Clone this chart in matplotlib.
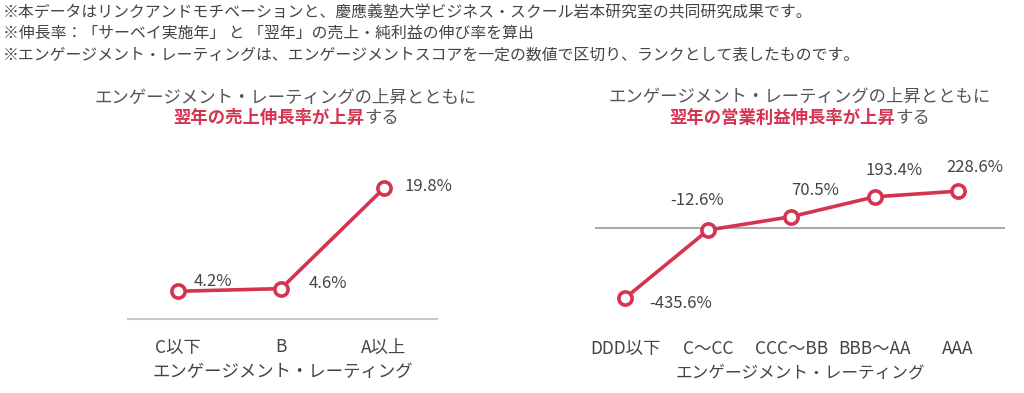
import matplotlib
matplotlib.use("Agg")
import matplotlib.pyplot as plt
from matplotlib.offsetbox import TextArea, HPacker, AnnotationBbox

plt.rcParams['font.family'] = ['Noto Sans CJK JP', 'DejaVu Sans']

# ---- data ----
notes = [
    "※本データはリンクアンドモチベーションと、慶應義塾大学ビジネス・スクール岩本研究室の共同研究成果です。",
    "※伸長率：「サーベイ実施年」 と 「翌年」の売上・純利益の伸び率を算出",
    "※エンゲージメント・レーティングは、エンゲージメントスコアを一定の数値で区切り、ランクとして表したものです。",
]
left_title1 = "エンゲージメント・レーティングの上昇とともに"
left_title2_red = "翌年の売上伸長率が上昇"
left_title2_gray = "する"
left_cats = ["C以下", "B", "A以上"]
left_vals = [4.2, 4.6, 19.8]
left_xlabel = "エンゲージメント・レーティング"

right_title1 = "エンゲージメント・レーティングの上昇とともに"
right_title2_red = "翌年の営業利益伸長率が上昇"
right_title2_gray = "する"
right_cats = ["DDD以下", "C〜CC", "CCC〜BB", "BBB〜AA", "AAA"]
right_vals = [-435.6, -12.6, 70.5, 193.4, 228.6]
right_xlabel = "エンゲージメント・レーティング"

RED = '#d5334f'
TXT = '#444444'
TTL = '#555555'

W, H = 1024, 393
fig = plt.figure(figsize=(W / 100, H / 100), dpi=100)


def px_axes(x0, y0, x1, y1):
    return fig.add_axes([x0 / W, 1 - y1 / H, (x1 - x0) / W, (y1 - y0) / H])


# header notes
for i, (t, y) in enumerate(zip(notes, [12, 33, 55])):
    fig.text(3 / W, 1 - y / H, t, fontsize=11.4, color=TXT, ha='left', va='center')


def two_color_title(cx, cy, red, gray):
    a = TextArea(red, textprops=dict(color=RED, fontsize=12.5, fontweight='bold'))
    b = TextArea(gray, textprops=dict(color=TTL, fontsize=12.5))
    box = HPacker(children=[a, b], pad=0, sep=0, align='baseline')
    ab = AnnotationBbox(box, (cx / W, 1 - cy / H), xycoords='figure fraction',
                        frameon=False, box_alignment=(0.5, 0.5), pad=0)
    fig.add_artist(ab)


# ---- left chart ----
axL = px_axes(128, 150, 437, 319)
xs = list(range(len(left_cats)))
axL.plot(xs, left_vals, color=RED, lw=2.6, marker='o', markersize=9.5,
         markerfacecolor='white', markeredgecolor=RED, markeredgewidth=2.6, zorder=3)
axL.set_xlim(-0.485, 2.515)
axL.set_ylim(0, 25.6)
for s in ['top', 'right', 'left']:
    axL.spines[s].set_visible(False)
axL.spines['bottom'].set_color('#c8c8c8')
axL.spines['bottom'].set_linewidth(1.5)
axL.set_yticks([])
axL.set_xticks(xs)
axL.set_xticklabels(left_cats, fontsize=12.5, color=TXT)
axL.tick_params(axis='x', length=0, pad=14)
axL.set_xlabel(left_xlabel, fontsize=12.5, color=TXT, labelpad=5)
offsL = [(25, 7), (34, 4), (32, 1)]
for x, v, o in zip(xs, left_vals, offsL):
    axL.annotate(f"{v:.1f}%", (x, v), xytext=o, textcoords='offset points',
                 ha='center', va='center', fontsize=12, color=TXT)
fig.text(286 / W, 1 - 98 / H, left_title1, fontsize=12.5, color=TTL, ha='center', va='center')
two_color_title(286, 118, left_title2_red, left_title2_gray)

# ---- right chart ----
axR = px_axes(595, 150, 1005, 330)
xr = list(range(len(right_cats)))
axR.axhline(0, color='#aaaaaa', lw=1.5, zorder=1)
axR.plot(xr, right_vals, color=RED, lw=2.6, marker='o', markersize=9.5,
         markerfacecolor='white', markeredgecolor=RED, markeredgewidth=2.6, zorder=3)
axR.set_xlim(-0.36, 4.566)
axR.set_ylim(-633, 484)
for s in axR.spines.values():
    s.set_visible(False)
axR.set_yticks([])
axR.set_xticks(xr)
axR.set_xticklabels(right_cats, fontsize=12.5, color=TXT)
axR.tick_params(axis='x', length=0, pad=7)
axR.set_xlabel(right_xlabel, fontsize=12, color=TXT, labelpad=5)
offsR = [(40, -4), (-8, 21), (17, 19), (14, 19), (12, 17)]
for x, v, o in zip(xr, right_vals, offsR):
    axR.annotate(f"{v:.1f}%", (x, v), xytext=o, textcoords='offset points',
                 ha='center', va='center', fontsize=12, color=TXT)
fig.text(800 / W, 1 - 97 / H, right_title1, fontsize=12.5, color=TTL, ha='center', va='center')
two_color_title(800, 118, right_title2_red, right_title2_gray)

fig.savefig("out.png", dpi=100)
